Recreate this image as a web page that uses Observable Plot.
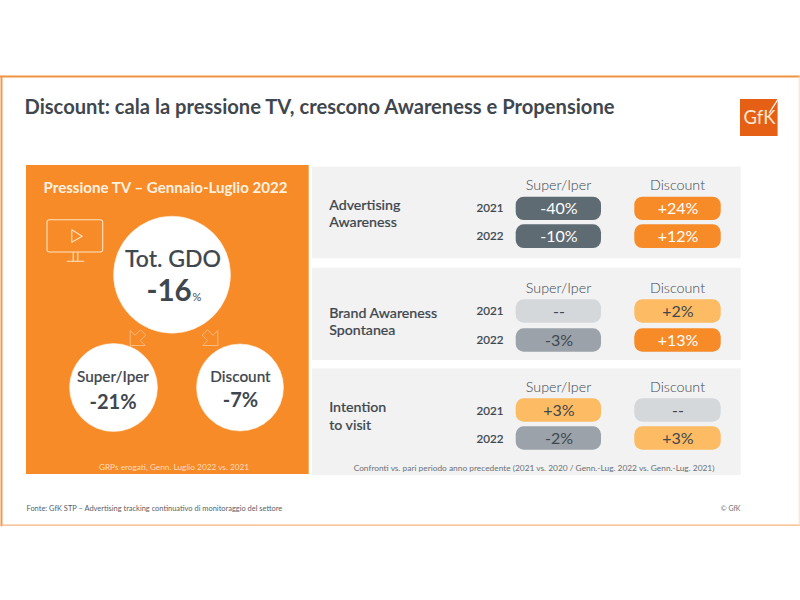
<!DOCTYPE html>
<html>
<head>
<meta charset="utf-8">
<style>html,body{margin:0;padding:0;background:#fff}svg{display:block}</style>
<script src="https://cdn.jsdelivr.net/npm/d3@7"></script>
<script src="https://cdn.jsdelivr.net/npm/@observablehq/plot@0.6"></script>
</head>
<body>
<div id="chart"></div>
<script>
// ---- data ----
const titleText = "Discount: cala la pressione TV, crescono Awareness e Propensione";
const pressureTitle = "Pressione TV – Gennaio-Luglio 2022";
const metrics = ["Advertising\nAwareness", "Brand Awareness\nSpontanea", "Intention\nto visit"];
const years = [2021, 2022];
const groups = ["Super/Iper", "Discount"];
const superIper = [-40, -10, null, -3, 3, -2];
const discount = [24, 12, 2, 13, null, 3];
const totalLabel = "Tot. GDO";
const totalValue = -16;
const pressureValues = [-21, -7];
const grpNote = "GRPs erogati, Genn. Luglio 2022 vs. 2021";
const compareNote = "Confronti vs. pari periodo anno precedente (2021 vs. 2020 / Genn.-Lug. 2022 vs. Genn.-Lug. 2021)";
const sourceNote = "Fonte: GfK STP – Advertising tracking continuativo di monitoraggio del settore";
const copyright = "© GfK";

// ---- layout and styles ----
const FONT = "Lato";
const INK = "#3F474E";
const PANEL_ORANGE = "#F68B28";
const columnX = [[515.7, 601], [634.3, 720.7]];
const columnMid = [558.5, 677.5];
const panelY = [[166.7, 258.3], [267.7, 360], [368.3, 475]];
const pillY = [[196.7, 220], [224.3, 248], [299.3, 322.7], [328.3, 351.7], [398.3, 421.7], [426.3, 449.7]];
const yearY = [208, 236, 311, 340, 410.5, 438.5];
const headerY = [185, 288, 387];
const metricY = [212.5, 320.5, 415];
const circles = [
  {x: 171.5, y: 274.2, r: 58.5},
  {x: 113, y: 387, r: 44},
  {x: 239.5, y: 387, r: 43.5}
];
const pressureCircleText = [
  {x: 112.5, yLabel: 377, yValue: 402, size: 20},
  {x: 240, yLabel: 377, yValue: 400, size: 20}
];
const arrowShape = [[129.7, 345], [129.7, 330], [134.5, 334.8], [140, 329.3], [145.3, 334.6], [139.8, 340.1], [144.7, 345], [129.7, 345]];
const mirrorAxis = 347;
const pale = "#FFE3C4";
const tvLines = [
  {id: "play", pts: [[71.3, 229.3], [81.7, 235.7], [71.3, 241.7], [71.3, 229.3]]},
  {id: "leg1", pts: [[72.7, 252], [72.7, 260.7]]},
  {id: "leg2", pts: [[77.3, 252], [77.3, 260.7]]},
  {id: "base", pts: [[66.7, 260.7], [83.3, 260.7]]}
];
const frameLines = [
  {id: "top", pts: [[0, 76], [800, 76]], stroke: "#EE9440", w: 2.2},
  {id: "left", pts: [[1, 76], [1, 525]], stroke: "#F19A4C", w: 2},
  {id: "bottom", pts: [[0, 524.7], [800, 524.7]], stroke: "#F4B47C", w: 1.2},
  {id: "right", pts: [[798.7, 76], [798.7, 525]], stroke: "#FBDDBE", w: 1}
];

function pillFill(v) {
  if (v === null) return "#D5D8DB";
  if (v <= -10) return "#5F6B73";
  if (v < 0) return "#9BA2A9";
  return v <= 3 ? "#FDBB63" : "#F68B28";
}
const pillInk = v => (v === null || (v > -10 && v <= 3)) ? INK : "#FFFFFF";
const fmt = v => v === null ? "--" : (v > 0 ? "+" : "") + v + "%";

const pills = [superIper, discount].flatMap((vals, c) => vals.map((v, i) => ({
  v, x1: columnX[c][0], x2: columnX[c][1], xm: columnMid[c],
  y1: pillY[i][0], y2: pillY[i][1], label: fmt(v)
})));
const yearRows = pillY.map((_, i) => ({year: String(years[i % 2]), y: yearY[i]}));
const headers = headerY.flatMap(y => groups.map((g, c) => ({g, x: columnMid[c] - 0.5, y})));
const panels = panelY.map(([y1, y2]) => ({y1, y2}));
const linePts = arr => arr.flatMap(l => l.pts.map(([x, y]) => ({id: l.id, x, y, stroke: l.stroke, w: l.w})));
const arrows = [
  ...arrowShape.map(([x, y]) => ({id: "l", x, y})),
  ...arrowShape.map(([x, y]) => ({id: "r", x: mirrorAxis - x, y}))
];

const txt = (rows, o) => Plot.text(rows, {fontFamily: FONT, ...o});
const one = (text, x, y, o) => Plot.text([text], {text: d => d, x: () => x, y: () => y, fontFamily: FONT, ...o});
const medium = {stroke: INK, strokeWidth: 0.18, fill: INK};

const chart = Plot.plot({
  width: 800, height: 600, margin: 0,
  x: {domain: [0, 800], range: [0, 800], axis: null},
  y: {domain: [0, 600], range: [0, 600], axis: null},
  r: {type: "identity"},
  style: {background: "#FFFFFF"},
  marks: [
    Plot.line(linePts(frameLines), {x: "x", y: "y", z: "id", stroke: d => d.stroke, strokeWidth: d => d.w}),
    one(titleText, 24, 107, {textAnchor: "start", fontSize: 20.15, fontWeight: 700, fill: INK}),
    // logo
    Plot.rect([0], {x1: () => 740, x2: () => 777.6, y1: () => 99, y2: () => 136, fill: "#E55F14"}),
    one("GfK", 759, 118, {fontSize: 18.5, fontWeight: 400, fill: "#FFE8D4"}),
    Plot.line([[769, 112], [778, 98]], {x: d => d[0], y: d => d[1], stroke: "#FFFFFF", strokeWidth: 1.3}),
    // left panel
    Plot.rect([0], {x1: () => 26, x2: () => 308.7, y1: () => 165, y2: () => 474, fill: PANEL_ORANGE}),
    one(pressureTitle, 165, 188, {fontSize: 15.1, fontWeight: 700, fill: "#FFF1E0"}),
    Plot.rect([0], {x1: () => 47, x2: () => 102.7, y1: () => 219.7, y2: () => 252, rx: 2.5, fill: "none", stroke: pale, strokeWidth: 1.1}),
    Plot.line(linePts(tvLines), {x: "x", y: "y", z: "id", stroke: pale, strokeWidth: 1.1}),
    Plot.line(arrows, {x: "x", y: "y", z: "id", stroke: "#FBB97C", strokeWidth: 1}),
    Plot.dot(circles, {x: "x", y: "y", r: "r", fill: "#FFFFFF", stroke: "#FFE9D2", strokeWidth: 0.6}),
    one(totalLabel, 172.5, 259.5, {fontSize: 23, fontWeight: 500, ...medium}),
    one(String(totalValue), 168.5, 291, {fontSize: 29.5, fontWeight: 700, fill: INK}),
    one("%", 196.5, 297, {fontSize: 11, fontWeight: 400, fill: INK}),
    txt(pressureCircleText.map((d, i) => ({...d, t: groups[i]})), {x: "x", y: "yLabel", text: "t", fontSize: 15.3, fontWeight: 500, ...medium}),
    txt(pressureCircleText.map((d, i) => ({...d, t: pressureValues[i] + "%"})), {x: "x", y: "yValue", text: "t", fontSize: d => d.size, fontWeight: 700, fill: INK}),
    one(grpNote, 173.5, 467, {fontSize: 8.25, fill: "#FBDDBC"}),
    // right panels
    Plot.rect(panels, {x1: () => 312, x2: () => 740.7, y1: "y1", y2: "y2", fill: "#F2F2F2"}),
    txt(metrics.map((m, i) => ({m, y: metricY[i]})), {x: () => 328.7, y: "y", text: "m", textAnchor: "start", fontSize: 14.2, fontWeight: 500, lineHeight: 1.21, ...medium}),
    txt(headers, {x: "x", y: "y", text: "g", fontSize: 14.3, fontWeight: 300, fill: INK}),
    txt(yearRows, {x: () => 489.5, y: "y", text: "year", fontSize: 11.6, fontWeight: 500, ...medium}),
    Plot.rect(pills, {x1: "x1", x2: "x2", y1: "y1", y2: "y2", rx: 8, ry: 8, fill: d => pillFill(d.v)}),
    txt(pills, {x: "xm", y: d => (d.y1 + d.y2) / 2 + 0.5, text: "label", fontSize: 16, fontWeight: 400, fill: d => pillInk(d.v)}),
    one(compareNote, 533.5, 468, {fontSize: 8.35, fill: "#6A7076"}),
    // footer
    one(sourceNote, 26, 508, {textAnchor: "start", fontSize: 7.46, fill: "#5A6066"}),
    one(copyright, 740, 508, {textAnchor: "end", fontSize: 7, fill: "#6A7076"})
  ]
});
document.getElementById("chart").append(chart);
</script>
</body>
</html>
